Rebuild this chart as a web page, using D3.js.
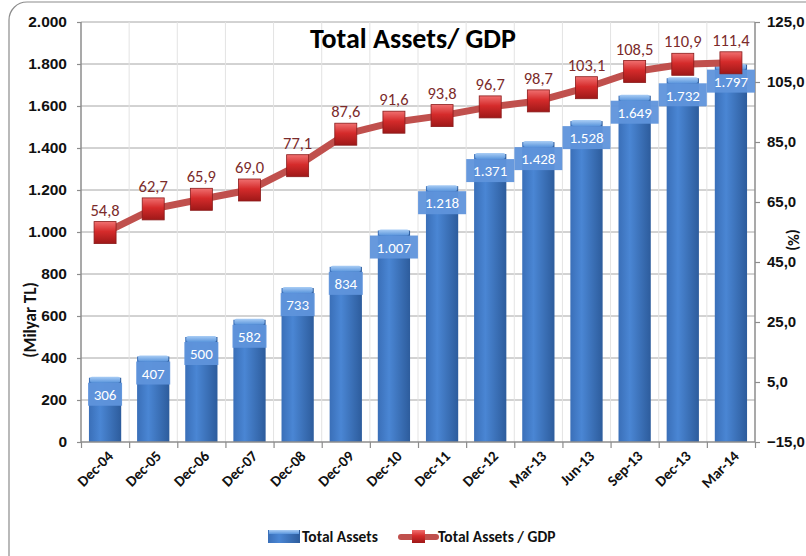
<!DOCTYPE html>
<html>
<head>
<meta charset="utf-8">
<script src="https://cdn.jsdelivr.net/npm/d3@7"></script>
<style>
  body { margin: 0; background: #fff; font-family: Carlito, Calibri, Lato, "Liberation Sans", Arial, sans-serif; }
</style>
</head>
<body>
<div id="chart"></div>
<script>
// data
const periods = ["Dec-04", "Dec-05", "Dec-06", "Dec-07", "Dec-08", "Dec-09", "Dec-10",
  "Dec-11", "Dec-12", "Mar-13", "Jun-13", "Sep-13", "Dec-13", "Mar-14"]
const totalAssets = [306, 407, 500, 582, 733, 834, 1007, 1218, 1371, 1428, 1528, 1649, 1732, 1797]
const assetsToGdp = [54.8, 62.7, 65.9, 69.0, 77.1, 87.6, 91.6, 93.8, 96.7, 98.7, 103.1, 108.5, 110.9, 111.4]
const leftTicks = [0, 200, 400, 600, 800, 1000, 1200, 1400, 1600, 1800, 2000]
const rightTicks = [-15, 5, 25, 45, 65, 85, 105, 125]

const width = 806, height = 556
const margin = { top: 22, right: 51, bottom: 114, left: 81 }

const fmtThousands = (v) => d3.format(",")(v).replace(/,/g, ".")
const fmtComma = (v) => d3.format(".1f")(v).replace(".", ",")

const svg = d3.select("#chart").append("svg")
  .attr("width", width).attr("height", height)
  .style("font-family", "Carlito, Calibri, Lato, 'Liberation Sans', Arial, sans-serif")

const defs = svg.append("defs")

const barGrad = defs.append("linearGradient").attr("id", "barGrad")
barGrad.append("stop").attr("offset", "0%").attr("stop-color", "#3a6fb8")
barGrad.append("stop").attr("offset", "35%").attr("stop-color", "#4a86d4")
barGrad.append("stop").attr("offset", "100%").attr("stop-color", "#2d5c9c")

const capGrad = defs.append("linearGradient").attr("id", "capGrad")
  .attr("x1", 0).attr("y1", 0).attr("x2", 0).attr("y2", 1)
capGrad.append("stop").attr("offset", "0%").attr("stop-color", "#a9cdf5")
capGrad.append("stop").attr("offset", "100%").attr("stop-color", "#5a95dc")

const markGrad = defs.append("linearGradient").attr("id", "markGrad")
  .attr("x1", 0).attr("y1", 0).attr("x2", 0).attr("y2", 1)
markGrad.append("stop").attr("offset", "0%").attr("stop-color", "#f07070")
markGrad.append("stop").attr("offset", "45%").attr("stop-color", "#d52b2b")
markGrad.append("stop").attr("offset", "100%").attr("stop-color", "#9e1818")

// outer frame
svg.append("rect")
  .attr("x", 9).attr("y", 2).attr("width", 820).attr("height", 600)
  .attr("rx", 18).attr("fill", "none").attr("stroke", "#8c8c8c").attr("stroke-width", 1.2)

const x = d3.scaleBand().domain(periods)
  .range([margin.left, width - margin.right]).paddingInner(0.33).paddingOuter(0.165)
const y = d3.scaleLinear().domain([0, 2000]).range([height - margin.bottom, margin.top])
const y2 = d3.scaleLinear().domain([-15, 125]).range([height - margin.bottom, margin.top])

const plotLeft = margin.left, plotRight = width - margin.right
const plotBottom = height - margin.bottom

// gridlines
svg.append("g")
  .selectAll("line")
  .data(leftTicks.slice(1))
  .join("line")
  .attr("x1", plotLeft).attr("x2", plotRight)
  .attr("y1", (d) => y(d)).attr("y2", (d) => y(d))
  .attr("stroke", "#a6a6a6").attr("stroke-width", 1)

const step = x.step()
svg.append("g")
  .selectAll("line")
  .data(periods.slice(1))
  .join("line")
  .attr("x1", (d) => x(d) - step * 0.165).attr("x2", (d) => x(d) - step * 0.165)
  .attr("y1", margin.top).attr("y2", plotBottom)
  .attr("stroke", "#e3e3e3").attr("stroke-width", 1)

// bars
const bars = svg.append("g")
bars.selectAll("rect.bar")
  .data(periods)
  .join("rect")
  .attr("class", "bar")
  .attr("x", (d) => x(d))
  .attr("y", (d, i) => y(totalAssets[i]))
  .attr("width", x.bandwidth())
  .attr("height", (d, i) => y(0) - y(totalAssets[i]))
  .attr("fill", "url(#barGrad)")

bars.selectAll("rect.cap")
  .data(periods)
  .join("rect")
  .attr("class", "cap")
  .attr("x", (d) => x(d) + 1)
  .attr("y", (d, i) => y(totalAssets[i]) - 1)
  .attr("width", x.bandwidth() - 2)
  .attr("height", 6)
  .attr("rx", 2)
  .attr("fill", "url(#capGrad)")

// axes
const axisLeft = svg.append("g")
  .attr("transform", `translate(${plotLeft},0)`)
  .call(d3.axisLeft(y).tickValues(leftTicks).tickFormat(fmtThousands).tickSize(4).tickPadding(10))
const axisRight = svg.append("g")
  .attr("transform", `translate(${plotRight},0)`)
  .call(d3.axisRight(y2).tickValues(rightTicks).tickFormat(fmtComma).tickSize(5).tickPadding(7))
const xTicksAt = periods.map((d) => x(d) - step * 0.165).concat([plotRight])
const axisBottom = svg.append("g")
  .attr("transform", `translate(0,${plotBottom})`)
  .call(d3.axisBottom(d3.scaleLinear().domain([plotLeft, plotRight]).range([plotLeft, plotRight]))
    .tickValues(xTicksAt).tickSize(6).tickFormat(""))

;[axisLeft, axisRight, axisBottom].forEach((g) => {
  g.select(".domain").attr("stroke", "#8c8c8c").attr("stroke-width", 1.5)
  g.selectAll(".tick line").attr("stroke", "#8c8c8c").attr("stroke-width", 1.2)
  g.selectAll("text").attr("fill", "#111").attr("font-size", 15.5).attr("font-weight", "bold")
})
axisRight.selectAll("text").attr("font-size", 15)
axisLeft.select(".domain").attr("d", `M0,${margin.top}V${plotBottom}`)
axisRight.select(".domain").attr("d", `M0,${margin.top}V${plotBottom}`)
axisBottom.select(".domain").attr("d", `M${plotLeft},0H${plotRight}`)

// category labels
svg.append("g")
  .selectAll("text")
  .data(periods)
  .join("text")
  .attr("transform", (d) => `translate(${x(d) + x.bandwidth() / 2 + 9},${plotBottom + 15}) rotate(-45)`)
  .attr("text-anchor", "end")
  .attr("font-size", 15).attr("font-weight", "bold").attr("fill", "#111")
  .text((d) => d)

// bar labels
const barLabels = svg.append("g")
  .selectAll("g")
  .data(periods)
  .join("g")
  .attr("transform", (d, i) => `translate(${x(d) + x.bandwidth() / 2},${y(totalAssets[i]) + 17})`)
barLabels.append("rect")
  .attr("x", (d, i) => totalAssets[i] >= 1000 ? -24 : -17)
  .attr("width", (d, i) => totalAssets[i] >= 1000 ? 48 : 34)
  .attr("y", -12).attr("height", 23)
  .attr("fill", "#5f94db").attr("opacity", 0.95)
barLabels.append("text")
  .attr("text-anchor", "middle").attr("dy", "0.35em")
  .attr("font-size", 15).attr("fill", "#fff")
  .text((d, i) => fmtThousands(totalAssets[i]))

// line
const line = d3.line()
  .x((d, i) => x(periods[i]) + x.bandwidth() / 2)
  .y((d) => y2(d))
svg.append("path")
  .datum(assetsToGdp)
  .attr("d", line)
  .attr("fill", "none").attr("stroke", "#c0504d").attr("stroke-width", 7)
  .attr("stroke-linejoin", "round")

svg.append("g")
  .selectAll("rect")
  .data(assetsToGdp)
  .join("rect")
  .attr("x", (d, i) => x(periods[i]) + x.bandwidth() / 2 - 11)
  .attr("y", (d) => y2(d) - 11)
  .attr("width", 22).attr("height", 22)
  .attr("fill", "url(#markGrad)").attr("stroke", "#8a1a1a").attr("stroke-width", 0.8)

svg.append("g")
  .selectAll("text")
  .data(assetsToGdp)
  .join("text")
  .attr("x", (d, i) => x(periods[i]) + x.bandwidth() / 2)
  .attr("y", (d) => y2(d) - 17)
  .attr("text-anchor", "middle")
  .attr("font-size", 16.5).attr("fill", "#7b2b2b")
  .text((d) => fmtComma(d))

// title
svg.append("text")
  .attr("x", 413).attr("y", 48)
  .attr("text-anchor", "middle")
  .attr("font-size", 28).attr("font-weight", "bold").attr("fill", "#000")
  .text("Total Assets/ GDP")

// axis titles
svg.append("text")
  .attr("transform", `translate(36,320) rotate(-90)`)
  .attr("text-anchor", "middle")
  .attr("font-size", 17).attr("font-weight", "bold").attr("fill", "#111")
  .text("(Milyar TL)")
svg.append("text")
  .attr("transform", `translate(788,240) rotate(90)`)
  .attr("text-anchor", "middle")
  .attr("font-size", 16).attr("font-weight", "bold").attr("fill", "#111")
  .text("(%)")

// legend
const legend = svg.append("g").attr("transform", "translate(0,537)")
legend.append("rect")
  .attr("x", 268).attr("y", -7).attr("width", 32).attr("height", 13)
  .attr("fill", "url(#barGrad)")
legend.append("rect")
  .attr("x", 269).attr("y", -7).attr("width", 30).attr("height", 4)
  .attr("fill", "url(#capGrad)")
legend.append("text")
  .attr("x", 302).attr("y", 0).attr("dy", "0.35em")
  .attr("font-size", 15.5).attr("font-weight", "bold").attr("fill", "#111")
  .text("Total Assets")
legend.append("line")
  .attr("x1", 401).attr("x2", 436).attr("y1", 0).attr("y2", 0)
  .attr("stroke", "#c0504d").attr("stroke-width", 6).attr("stroke-linecap", "round")
legend.append("rect")
  .attr("x", 412).attr("y", -7).attr("width", 13).attr("height", 13)
  .attr("fill", "url(#markGrad)")
legend.append("text")
  .attr("x", 438).attr("y", 0).attr("dy", "0.35em")
  .attr("font-size", 15.5).attr("font-weight", "bold").attr("fill", "#111")
  .text("Total Assets / GDP")
</script>
</body>
</html>
